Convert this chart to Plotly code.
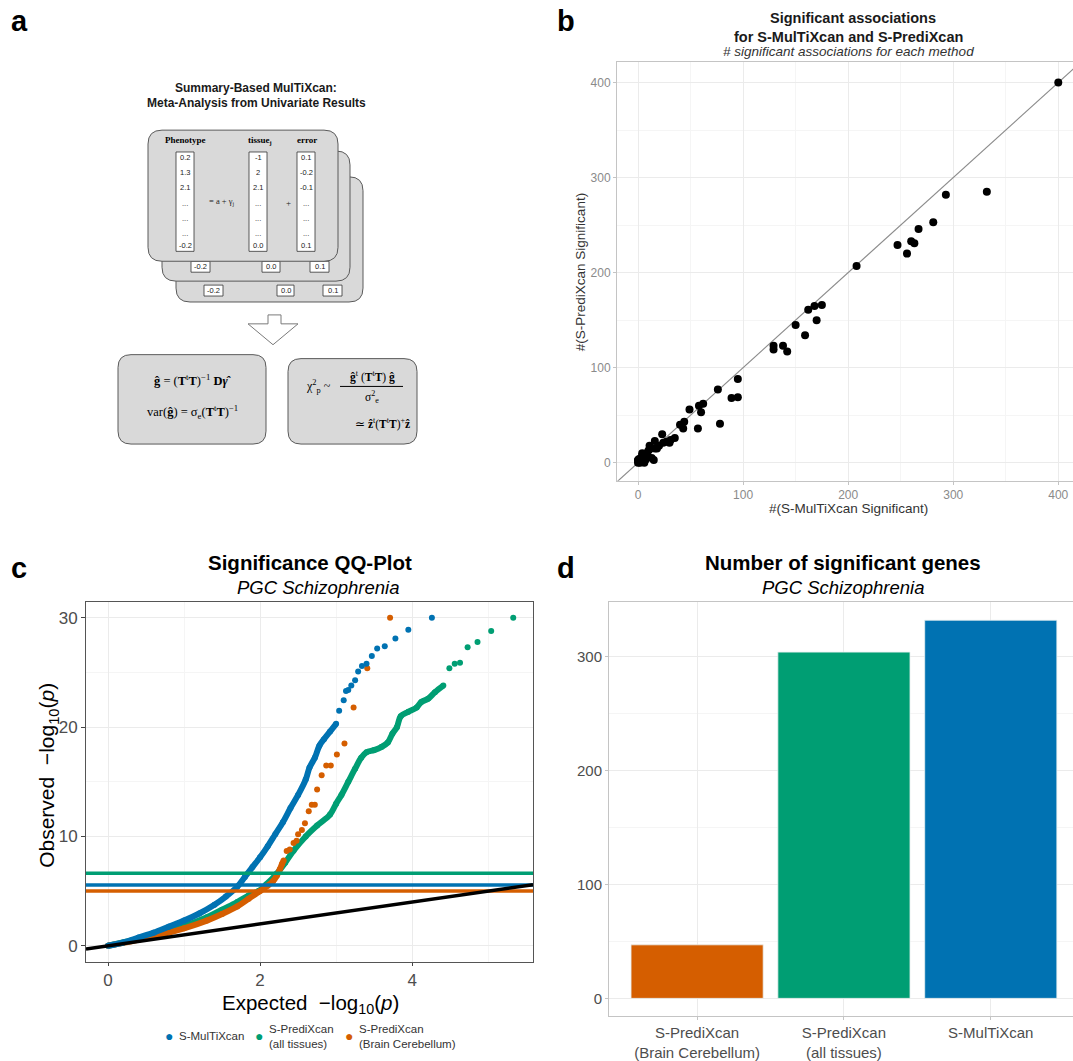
import plotly.graph_objects as go

W, H = 1073, 1061
SANS = "Liberation Sans, Arial, Helvetica, sans-serif"
SERIF = "Liberation Serif, Times New Roman, serif"

# ---------------- panel b data: number of significant associations per trait
b_multixcan = [400, 332, 293, 281, 267, 247, 260, 263, 256, 208, 162, 168, 175, 170, 150,
               159, 129, 129, 138, 142, 95, 76, 89, 95, 78, 49, 58, 62, 60, 57,
               44, 40, 43, 23, 35, 30, 24, 16, 11, 16, 10, 7, 4, 2, 0,
               5, 15, 0, 1, 2, 3, 4, 5, 6, 3, 8, 1, 2, 5, 7,
               12, 9, 6, 0, 4, 13, 20, 18, 27, 31]
b_predixcan = [400, 285, 282, 253, 246, 229, 233, 231, 220, 207, 161, 165, 166, 150, 145,
               134, 123, 119, 123, 117, 88, 77, 68, 69, 41, 56, 60, 62, 53, 36,
               43, 40, 36, 30, 26, 21, 21, 23, 18, 15, 13, 9, 8, 4, 2,
               2, 3, 0, 1, 3, 2, 6, 4, 8, 5, 10, 4, 0, 1, 3,
               15, 7, 0, 3, 10, 5, 18, 15, 22, 24]

# ---------------- panel c data: QQ-plot (expected, observed -log10 p)
mtx_x = [0, 0.2, 0.4, 0.6, 0.8, 1.0, 1.2, 1.4, 1.55, 1.7, 1.8, 1.9, 2.0, 2.1, 2.2, 2.3,
         2.4, 2.5, 2.6, 2.65, 2.72, 2.78, 2.84, 2.92, 3.0]
mtx_y = [0, 0.3, 0.75, 1.2, 1.75, 2.3, 2.95, 3.75, 4.5, 5.4, 6.3, 7.2, 8.1, 9.1, 10.2, 11.3,
         12.6, 13.8, 15.2, 16.3, 17.2, 18.3, 18.9, 19.6, 20.3]
mtx_tail_x = [3.04, 3.10, 3.13, 3.16, 3.20, 3.25, 3.29, 3.34, 3.40, 3.47, 3.54, 3.64, 3.78, 3.95, 4.26]
mtx_tail_y = [21.5, 22.45, 23.3, 23.4, 23.8, 24.3, 25.1, 25.6, 25.8, 26.5, 27.2, 27.4, 28.1, 28.9, 30.0]

all_x = [0, 0.5, 1.0, 1.3, 1.5, 1.7, 1.85, 1.98, 2.08, 2.22, 2.33, 2.44, 2.6, 2.75, 2.92, 3.0,
         3.07, 3.16, 3.25, 3.33, 3.4, 3.5, 3.6, 3.68, 3.74, 3.8, 3.85, 3.95, 4.06, 4.12, 4.21,
         4.3, 4.41]
all_y = [0, 0.8, 1.8, 2.6, 3.3, 4.0, 4.6, 5.0, 5.6, 6.6, 7.6, 8.7, 10.0, 11.0, 12.0, 13.0,
         13.8, 15.0, 16.2, 17.2, 17.7, 17.9, 18.2, 18.6, 19.4, 20.0, 21.0, 21.4, 21.8, 22.3, 22.6,
         23.2, 23.8]
all_tail_x = [4.49, 4.56, 4.63, 4.73, 4.86, 5.04, 5.33]
all_tail_y = [25.4, 25.8, 25.9, 27.3, 27.8, 28.8, 30.0]

cer_x = [0, 0.5, 1.0, 1.3, 1.5, 1.7, 1.85, 2.0, 2.1, 2.17, 2.22, 2.26, 2.29, 2.31]
cer_y = [0, 0.7, 1.6, 2.3, 2.9, 3.6, 4.3, 5.0, 5.5, 5.9, 6.4, 7.0, 7.5, 7.8]
cer_tail_x = [2.35, 2.39, 2.44, 2.48, 2.50, 2.55, 2.59, 2.64, 2.68, 2.72, 2.75, 2.81, 2.87,
              2.93, 3.01, 3.11, 3.23, 3.41, 3.71]
cer_tail_y = [8.67, 8.8, 9.4, 9.6, 10.2, 10.6, 11.2, 12.3, 12.9, 12.9, 14.3, 15.6, 16.5,
              16.5, 17.5, 18.5, 21.8, 25.4, 30.0]

# significance thresholds (-log10 p)
thr_mtx = 5.55
thr_all = 6.64
thr_cer = 5.0

# ---------------- panel d data
d_categories = ["S-PrediXcan<br>(Brain Cerebellum)", "S-PrediXcan<br>(all tissues)", "S-MulTiXcan"]
d_counts = [47, 304, 332]

# ---------------- panel a diagram text
pheno_vals = ["0.2", "1.3", "2.1", "...", "...", "...", "-0.2"]
tissue_vals = ["-1", "2", "2.1", "...", "...", "...", "0.0"]
error_vals = ["0.1", "-0.2", "-0.1", "...", "...", "...", "0.1"]
stack_vals = ["-0.2", "0.0", "0.1"]

BLUE = "#0072B2"
GREEN = "#009E73"
ORANGE = "#D55E00"


def fx(x):
    return x / W


def fy(y):
    return 1 - y / H


fig = go.Figure()

# ================= panel b =================
b_xr = [-20, 414]
b_yr = [-19, 422]
diag = [min(b_xr[0], b_yr[0]) - 10, max(b_xr[1], b_yr[1]) + 10]
fig.add_trace(go.Scatter(x=diag, y=diag, mode="lines", line=dict(color="#8C8C8C", width=1.2),
                         xaxis="x", yaxis="y", showlegend=False, hoverinfo="skip"))
fig.add_trace(go.Scatter(x=b_multixcan, y=b_predixcan, mode="markers",
                         marker=dict(color="black", size=8), xaxis="x", yaxis="y",
                         showlegend=False))

# ================= panel c =================
c_xr = [-0.29, 5.59]
c_yr = [-1.45, 31.45]
for xs, ys, txs, tys, col in [(all_x, all_y, all_tail_x, all_tail_y, GREEN),
                              (cer_x, cer_y, cer_tail_x, cer_tail_y, ORANGE),
                              (mtx_x, mtx_y, mtx_tail_x, mtx_tail_y, BLUE)]:
    fig.add_trace(go.Scatter(x=xs, y=ys, mode="lines+markers",
                             line=dict(color=col, width=6, shape="spline"),
                             marker=dict(color=col, size=6),
                             xaxis="x2", yaxis="y2", showlegend=False))
    fig.add_trace(go.Scatter(x=txs, y=tys, mode="markers", marker=dict(color=col, size=6),
                             xaxis="x2", yaxis="y2", showlegend=False))

for thr, col in [(thr_cer, ORANGE), (thr_mtx, BLUE), (thr_all, GREEN)]:
    fig.add_trace(go.Scatter(x=c_xr, y=[thr, thr], mode="lines", line=dict(color=col, width=3.5),
                             xaxis="x2", yaxis="y2", showlegend=False, hoverinfo="skip"))
fig.add_trace(go.Scatter(x=c_xr, y=c_xr, mode="lines", line=dict(color="black", width=3.5),
                         xaxis="x2", yaxis="y2", showlegend=False, hoverinfo="skip"))

# ================= panel d =================
fig.add_trace(go.Bar(x=d_categories, y=d_counts, width=0.9,
                     marker=dict(color=[ORANGE, GREEN, BLUE], line=dict(color="#E8F0F0", width=0.8)),
                     xaxis="x3", yaxis="y3", showlegend=False))

grid_major = "#EBEBEB"
grid_minor = "#F5F5F5"

layout = dict(
    width=W, height=H, autosize=False,
    margin=dict(l=0, r=0, t=0, b=0),
    paper_bgcolor="white", plot_bgcolor="white",
    font=dict(family=SANS),
    # panel b
    xaxis=dict(domain=[fx(617), 1], range=b_xr, dtick=100, tick0=0, anchor="y",
               showgrid=True, gridcolor=grid_major, gridwidth=1,
               minor=dict(dtick=50, tick0=0, showgrid=True, gridcolor=grid_minor, gridwidth=1),
               showline=True, linecolor="#C4C4C4", linewidth=1, mirror=True,
               ticks="outside", ticklen=3, tickcolor="#C4C4C4",
               tickfont=dict(size=12, color="#8A8A8A"), zeroline=False),
    yaxis=dict(domain=[fy(484), fy(62)], range=b_yr, dtick=100, tick0=0, anchor="x",
               showgrid=True, gridcolor=grid_major, gridwidth=1,
               minor=dict(dtick=50, tick0=0, showgrid=True, gridcolor=grid_minor, gridwidth=1),
               showline=True, linecolor="#C4C4C4", linewidth=1,
               ticks="outside", ticklen=3, tickcolor="#C4C4C4",
               tickfont=dict(size=12, color="#8A8A8A"), zeroline=False),
    # panel c
    xaxis2=dict(domain=[fx(86), fx(533)], range=c_xr, dtick=2, tick0=0, anchor="y2",
                showgrid=True, gridcolor=grid_major, gridwidth=1,
                minor=dict(dtick=1, tick0=0, showgrid=True, gridcolor=grid_minor, gridwidth=1),
                showline=True, linecolor="#555555", linewidth=1, mirror=True,
                ticks="outside", ticklen=3, tickcolor="#444444",
                tickfont=dict(size=17, color="#4D4D4D"), zeroline=False),
    yaxis2=dict(domain=[fy(968), fy(606)], range=c_yr, dtick=10, tick0=0, anchor="x2",
                showgrid=True, gridcolor=grid_major, gridwidth=1,
                minor=dict(dtick=5, tick0=0, showgrid=True, gridcolor=grid_minor, gridwidth=1),
                showline=True, linecolor="#555555", linewidth=1, mirror=True,
                ticks="outside", ticklen=4, tickcolor="#444444",
                tickfont=dict(size=17, color="#4D4D4D"), zeroline=False),
    # panel d
    xaxis3=dict(domain=[fx(609), 1], type="category", categoryorder="array",
                categoryarray=d_categories, range=[-0.6, 2.56], anchor="y3",
                showgrid=True, gridcolor=grid_major, gridwidth=1,
                showline=True, linecolor="#C4C4C4", linewidth=1, mirror=True,
                ticks="outside", ticklen=3, tickcolor="#C4C4C4",
                tickfont=dict(size=15, color="#4D4D4D"), zeroline=False),
    yaxis3=dict(domain=[fy(1023), fy(606)], range=[-15.7, 348], dtick=100, tick0=0, anchor="x3",
                showgrid=True, gridcolor=grid_major, gridwidth=1,
                minor=dict(dtick=50, tick0=0, showgrid=True, gridcolor=grid_minor, gridwidth=1),
                showline=True, linecolor="#C4C4C4", linewidth=1,
                ticks="outside", ticklen=3, tickcolor="#C4C4C4",
                tickfont=dict(size=15, color="#4D4D4D"), zeroline=False),
)
fig.update_layout(**layout)

ann = []


def text(x, y, s, size, color="black", family=SANS, xanchor="center", align="center", angle=0):
    ann.append(dict(x=fx(x), y=fy(y), xref="paper", yref="paper", text=s, showarrow=False,
                    xanchor=xanchor, yanchor="middle", align=align, textangle=angle,
                    font=dict(size=size, color=color, family=family)))


# panel letters
for lx, ly, lt in [(19, 21, "a"), (566, 21, "b"), (19, 572, "c"), (566, 572, "d")]:
    text(lx, ly, "<b>%s</b>" % lt, 29)

# panel b titles
text(853, 18, "<b>Significant associations</b>", 14.5, "#1A1A1A")
text(848, 37, "<b>for S-MulTiXcan and S-PrediXcan</b>", 14.5, "#1A1A1A")
text(848, 52, "<i># significant associations for each method</i>", 13.5, "#333333")
text(848, 512, "#(S-MulTiXcan Significant)", 13.5, "#333333")
text(580, 274, "#(S-PrediXcan Significant)", 13.5, "#333333", angle=-90)

# panel c titles
text(310, 566, "<b>Significance QQ-Plot</b>", 20.5)
text(318, 591, "<i>PGC Schizophrenia</i>", 18.5)
text(310, 1011, "Expected  −log<sub>10</sub>(<i>p</i>)", 20.5)
text(48, 781, "Observed  −log<sub>10</sub>(<i>p</i>)", 21, angle=-90)

# panel c legend
for dx, tx, lab, col in [(169, 177, "S-MulTiXcan", BLUE),
                         (259, 267, "S-PrediXcan<br>(all tissues)", GREEN),
                         (349, 357, "S-PrediXcan<br>(Brain Cerebellum)", ORANGE)]:
    text(dx, 1043, "●", 14, col)
    text(tx, 1043, lab, 11.5, "#333333", xanchor="left", align="left")

# panel d titles
text(843, 566, "<b>Number of significant genes</b>", 20.5)
text(843, 591, "<i>PGC Schizophrenia</i>", 18.5)

# ---------------- panel a diagram ----------------
shapes = []


def rrect(x0, y0, x1, y1, r, fill="#D9D9D9", lc="#5A5A5A", lw=1):
    p = (f"M {fx(x0 + r)},{fy(y0)} L {fx(x1 - r)},{fy(y0)} Q {fx(x1)},{fy(y0)} {fx(x1)},{fy(y0 + r)} "
         f"L {fx(x1)},{fy(y1 - r)} Q {fx(x1)},{fy(y1)} {fx(x1 - r)},{fy(y1)} "
         f"L {fx(x0 + r)},{fy(y1)} Q {fx(x0)},{fy(y1)} {fx(x0)},{fy(y1 - r)} "
         f"L {fx(x0)},{fy(y0 + r)} Q {fx(x0)},{fy(y0)} {fx(x0 + r)},{fy(y0)} Z")
    shapes.append(dict(type="path", path=p, xref="paper", yref="paper", fillcolor=fill,
                       line=dict(color=lc, width=lw), layer="above"))


def box(x0, y0, x1, y1):
    shapes.append(dict(type="rect", x0=fx(x0), x1=fx(x1), y0=fy(y1), y1=fy(y0), xref="paper",
                       yref="paper", fillcolor="white", line=dict(color="#333333", width=0.8),
                       layer="above"))


text(256, 89, "<b>Summary-Based MulTiXcan:</b>", 12, "#1A1A1A")
text(256, 104, "<b>Meta-Analysis from Univariate Results</b>", 12, "#1A1A1A")

# stacked boxes (back to front)
rrect(176, 178, 363, 304, 14)
for (bx0, bx1), v in zip([(204, 223), (277, 294), (323, 342)], stack_vals):
    box(bx0, 287, bx1, 298)
    text((bx0 + bx1) / 2, 292.5, v, 7.5, "#222222")
rrect(162, 152, 350, 283, 14)
for (bx0, bx1), v in zip([(191, 210), (262, 280), (310, 329)], stack_vals):
    box(bx0, 263, bx1, 274)
    text((bx0 + bx1) / 2, 268.5, v, 7.5, "#222222")
rrect(148, 131, 338, 263, 14)

text(185, 141, "<b>Phenotype</b>", 9, family=SERIF)
text(260, 141, "<b>tissue<sub>j</sub></b>", 9, family=SERIF)
text(307, 141, "<b>error</b>", 9, family=SERIF)
row_y = [159, 174, 189, 205, 220, 235, 247]
for (cx0, cx1), vals in zip([(176, 194), (249, 267), (297, 315)], [pheno_vals, tissue_vals, error_vals]):
    box(cx0, 153, cx1, 253)
    for ry, v in zip(row_y, vals):
        text((cx0 + cx1) / 2, ry, v, 7.5, "#222222")
text(222, 203, "= a + γ<sub>j</sub>", 8.5, "#222222", family=SERIF)
text(288, 204, "+", 9, "#222222", family=SERIF)

# down arrow
arrow = (f"M {fx(268)},{fy(317)} L {fx(281)},{fy(317)} L {fx(281)},{fy(326)} L {fx(298)},{fy(326)} "
         f"L {fx(273)},{fy(347)} L {fx(248)},{fy(326)} L {fx(268)},{fy(326)} Z")
shapes.append(dict(type="path", path=arrow, xref="paper", yref="paper", fillcolor="white",
                   line=dict(color="#7A7A7A", width=1), layer="above"))

# result boxes
rrect(118, 357, 266, 447, 13)
rrect(288, 361, 417, 447, 13)
text(192, 383, "<b>ĝ</b> = (<b>T</b><sup>t</sup><b>T</b>)<sup>−1</sup> <b>D<i>γ̂</i></b>", 12.5, family=SERIF)
text(192, 415, "var(<b>ĝ</b>) = σ<sub>e</sub>(<b>T</b><sup>t</sup><b>T</b>)<sup>−1</sup>", 12.5, family=SERIF)
text(318, 389, "χ<sup>2</sup><sub>p</sub> ~", 12, family=SERIF)
text(372, 379, "<b>ĝ</b><sup>t</sup> (<b>T</b><sup>t</sup><b>T</b>) <b>ĝ</b>", 11.5, family=SERIF)
shapes.append(dict(type="line", x0=fx(340), x1=fx(403), y0=fy(389), y1=fy(389), xref="paper",
                   yref="paper", line=dict(color="black", width=1), layer="above"))
text(372, 400, "σ<sup>2</sup><sub>e</sub>", 11.5, family=SERIF)
text(382, 426, "≃ <b>ẑ</b><sup>t</sup>(<b>T</b><sup>t</sup><b>T</b>)<sup>+</sup><b>ẑ</b>", 11.5, family=SERIF)

fig.update_layout(annotations=ann, shapes=shapes)

fig.write_html("out.html", config={"displayModeBar": False},
               post_script="document.body.style.margin='0';document.body.style.overflow='hidden';")
